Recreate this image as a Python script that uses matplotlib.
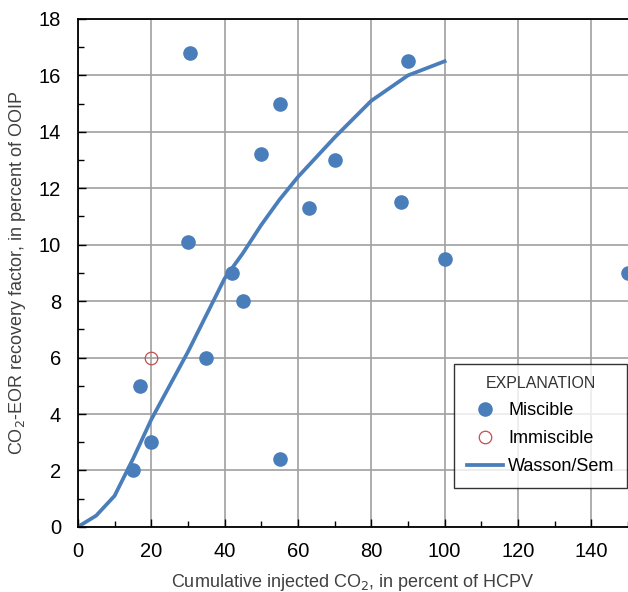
import matplotlib.pyplot as plt
from matplotlib.ticker import MultipleLocator

plt.rcParams['font.family'] = ['Liberation Sans', 'DejaVu Sans']

# Miscible floods
miscible_x = [15, 17, 20, 30, 30.5, 35, 42, 45, 50, 55, 55, 63, 70, 88, 90, 100, 150]
miscible_y = [2, 5, 3, 10.1, 16.8, 6, 9, 8, 13.2, 15, 2.4, 11.3, 13, 11.5, 16.5, 9.5, 9]

# Immiscible flood
immiscible_x = [20]
immiscible_y = [6]

# Wasson/Sem curve
wasson_x = [0, 5, 10, 15, 20, 25, 30, 35, 40, 45, 50, 55, 60, 70, 80, 90, 100]
wasson_y = [0, 0.4, 1.1, 2.4, 3.8, 5.0, 6.2, 7.5, 8.8, 9.7, 10.7, 11.6, 12.4, 13.8, 15.1, 16.0, 16.5]

blue = '#4a7ebb'

fig = plt.figure(figsize=(6.28, 5.92), dpi=100)
ax = fig.add_axes([0.124, 0.11, 0.876, 0.858])

ax.grid(True, color='#a0a0a0', linewidth=1.2, zorder=0)
ax.plot(wasson_x, wasson_y, color=blue, linewidth=2.7, label='Wasson/Sem', zorder=2)
ax.plot(miscible_x, miscible_y, 'o', color=blue, markersize=9.5, linestyle='none',
        label='Miscible', zorder=3)
ax.plot(immiscible_x, immiscible_y, 'o', markerfacecolor='none', markeredgecolor='#c0504d',
        markeredgewidth=0.9, markersize=9, linestyle='none', label='Immiscible', zorder=3)

ax.set_xlim(0, 150)
ax.set_ylim(0, 18)
ax.xaxis.set_major_locator(MultipleLocator(20))
ax.xaxis.set_minor_locator(MultipleLocator(10))
ax.yaxis.set_major_locator(MultipleLocator(2))
ax.yaxis.set_minor_locator(MultipleLocator(1))
ax.tick_params(which='both', direction='in', labelsize=14.5, colors='black')
ax.tick_params(axis='x', pad=11)
ax.tick_params(axis='y', pad=12)
ax.tick_params(which='major', length=6, width=1)
ax.tick_params(which='minor', length=4, width=1)

for side in ['left', 'bottom', 'top']:
    ax.spines[side].set_color('black')
    ax.spines[side].set_linewidth(1.3)
ax.spines['right'].set_visible(False)

ax.set_xlabel('Cumulative injected CO$_2$, in percent of HCPV', fontsize=13,
              color='#404040', labelpad=8)
ax.set_ylabel('CO$_2$-EOR recovery factor, in percent of OOIP', fontsize=13,
              color='#404040', labelpad=8)

handles, labels = ax.get_legend_handles_labels()
order = [1, 2, 0]
leg = ax.legend([handles[i] for i in order], [labels[i] for i in order],
                title='EXPLANATION', loc='lower left', bbox_to_anchor=(0.684, 0.077),
                fontsize=13, title_fontsize=11.5, frameon=True, fancybox=False,
                handlelength=2.0, handletextpad=0.3, borderpad=0.7, labelspacing=0.6,
                borderaxespad=0)
leg.get_frame().set_edgecolor('black')
leg.get_frame().set_linewidth(1.0)
leg.get_title().set_color('#333333')
leg._legend_box.sep = 8

fig.savefig('out.png', dpi=100)
